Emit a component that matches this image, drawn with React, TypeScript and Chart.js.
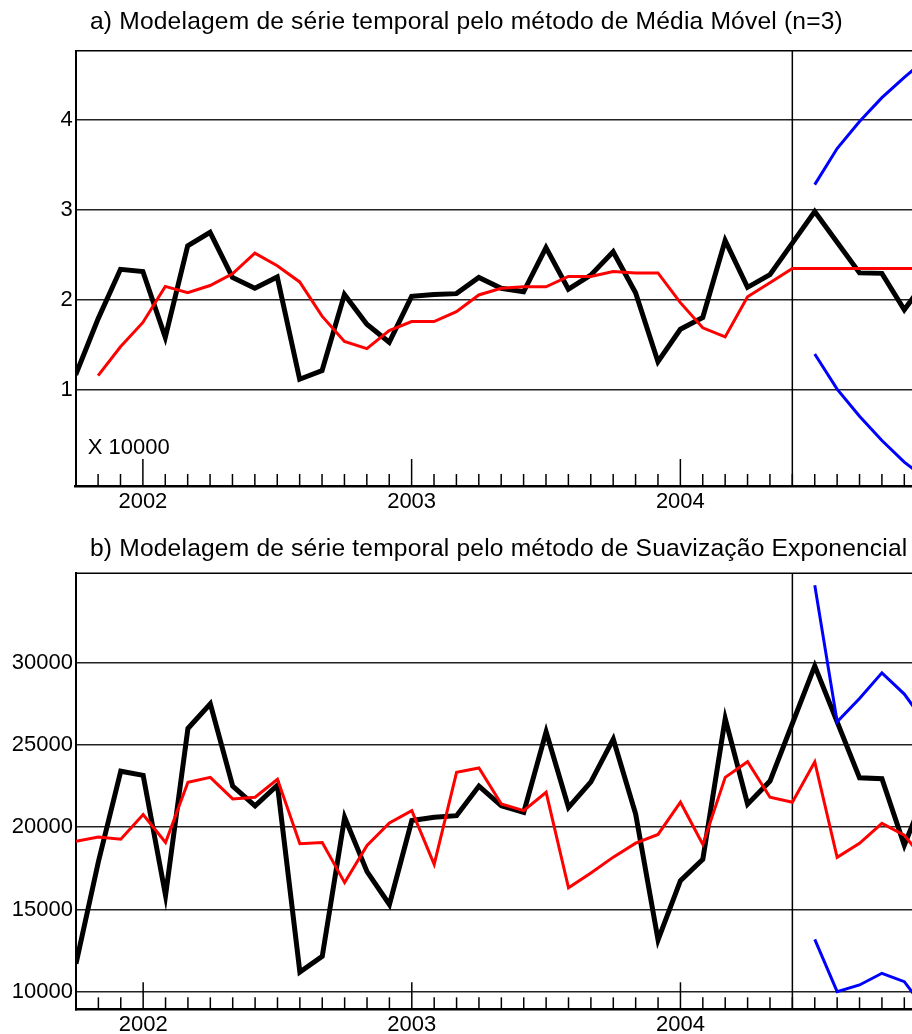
import React, { useEffect, useRef } from "react";
import { Chart, registerables } from "chart.js";

Chart.register(...registerables);

const FONT = "'Liberation Sans', Arial, sans-serif";

// Months on the x axis: Oct 2001 .. Dec 2004 (index 0 = Jan 2002 at position 3)
const months = [
  "2001-10", "2001-11", "2001-12",
  "2002-01", "2002-02", "2002-03", "2002-04", "2002-05", "2002-06",
  "2002-07", "2002-08", "2002-09", "2002-10", "2002-11", "2002-12",
  "2003-01", "2003-02", "2003-03", "2003-04", "2003-05", "2003-06",
  "2003-07", "2003-08", "2003-09", "2003-10", "2003-11", "2003-12",
  "2004-01", "2004-02", "2004-03", "2004-04", "2004-05", "2004-06",
  "2004-07", "2004-08", "2004-09", "2004-10", "2004-11", "2004-12",
];
const yearTicks = [0, 12, 24];
const yearLabels = ["2002", "2003", "2004"];
const forecastStartMonth = 29; // Jun 2004

// Observed series (actual units)
const observed = [
  11700, 17900, 23400,
  23150, 15850, 26000, 27500, 22500, 21300, 22550, 11200, 12150, 20600, 17300, 15300,
  20400, 20600, 20700, 22500, 21300, 20900, 25800, 21200, 22750, 25350, 20800, 13150,
  16750, 18050, 26600, 21400, 22800, 26300, 29800, 26400, 23000, 22950, 18900, 22300,
];

// a) Moving average (n=3), in units of 10000
const movingAverage = [
  null, 1.16, 1.48,
  1.75, 2.15, 2.08, 2.16, 2.29, 2.52, 2.38, 2.2, 1.82, 1.54, 1.46, 1.66,
  1.76, 1.76, 1.87, 2.055, 2.13, 2.145, 2.145, 2.26, 2.26, 2.315, 2.3, 2.3,
  1.97, 1.69, 1.59, 2.035, 2.19, 2.35, 2.35, 2.35, 2.35, 2.35, 2.35, 2.35,
];
const maUpper = [
  null, null, null, null, null, null, null, null, null, null, null, null, null,
  null, null, null, null, null, null, null, null, null, null, null, null, null,
  null, null, null, null, null, null, null, 3.28, 3.68, 3.98, 4.245, 4.47, 4.68,
];
const maLower = [
  null, null, null, null, null, null, null, null, null, null, null, null, null,
  null, null, null, null, null, null, null, null, null, null, null, null, null,
  null, null, null, null, null, null, null, 1.4, 1.01, 0.71, 0.44, 0.2, 0.01,
];

// b) Exponential smoothing (actual units)
const smoothed = [
  19150, 19400, 19270,
  20770, 19070, 22730, 23030, 21720, 21820, 22910, 18990, 19070, 16630, 18890, 20260,
  21010, 17740, 23330, 23600, 21410, 21010, 22120, 16320, 17210, 18180, 19030, 19560,
  21520, 18950, 23030, 23980, 21820, 21520, 23970, 18170, 19020, 20230, 19520, 17800,
];
const esUpper = [
  null, null, null, null, null, null, null, null, null, null, null, null, null,
  null, null, null, null, null, null, null, null, null, null, null, null, null,
  null, null, null, null, null, null, null, 34700, 26400, 27820, 29380, 28090, 26200,
];
const esLower = [
  null, null, null, null, null, null, null, null, null, null, null, null, null,
  null, null, null, null, null, null, null, null, null, null, null, null, null,
  null, null, null, null, null, null, null, 13180, 10000, 10410, 11120, 10610, 8800,
];

const topTicks = [1, 2, 3, 4];
const bottomTicks = [10000, 15000, 20000, 25000, 30000];
const topScaleFactor = 10000;

const monthValue = (i: number) => i - 3;
const toPoints = (arr: (number | null)[], div = 1) =>
  arr.map((v, i) => ({ x: monthValue(i), y: v === null ? null : v / div }));

type PanelCfg = {
  title: string;
  titleY: number;
  note?: string;
  yMin: number;
  yMax: number;
  yTicks: number[];
  yWidth: number;
  padTop: number;
  xHeight: number;
  xPad: number;
  datasets: any[];
};

const makeDecor = (cfg: PanelCfg) => ({
  id: "decor",
  beforeDatasetsDraw(chart: any) {
    const { ctx, chartArea } = chart;
    const { left, right, top, bottom } = chartArea;
    const x = chart.scales.x;
    ctx.save();
    ctx.strokeStyle = "#000";
    ctx.lineWidth = 1.5;
    ctx.beginPath();
    ctx.moveTo(left, top);
    ctx.lineTo(right, top);
    ctx.stroke();
    for (let i = 1; i < months.length; i++) {
      const m = monthValue(i);
      const px = x.getPixelForValue(m);
      const len = yearTicks.includes(m) ? 27 : 12;
      ctx.beginPath();
      ctx.moveTo(px, bottom);
      ctx.lineTo(px, bottom - len);
      ctx.stroke();
    }
    const fx = x.getPixelForValue(forecastStartMonth);
    ctx.beginPath();
    ctx.moveTo(fx, top);
    ctx.lineTo(fx, bottom);
    ctx.stroke();
    ctx.restore();
  },
  afterDraw(chart: any) {
    const { ctx, chartArea } = chart;
    ctx.save();
    ctx.fillStyle = "#000";
    ctx.font = `24.6px ${FONT}`;
    (ctx as any).letterSpacing = "0.18px";
    ctx.textAlign = "left";
    ctx.textBaseline = "middle";
    ctx.fillText(cfg.title, 90, cfg.titleY);
    (ctx as any).letterSpacing = "0px";
    if (cfg.note) {
      ctx.font = `22px ${FONT}`;
      ctx.textBaseline = "alphabetic";
      ctx.fillText(cfg.note, chartArea.left + 12, chartArea.bottom - 32);
    }
    ctx.restore();
  },
});

function Panel({ cfg, width, height }: { cfg: PanelCfg; width: number; height: number }) {
  const ref = useRef<HTMLCanvasElement>(null);
  useEffect(() => {
    if (!ref.current) return;
    const chart = new Chart(ref.current, {
      type: "line",
      data: { datasets: cfg.datasets },
      options: {
        responsive: false,
        animation: false,
        devicePixelRatio: 1,
        layout: { padding: { top: cfg.padTop, left: 0, right: 13.3, bottom: 0 } },
        plugins: { legend: { display: false }, tooltip: { enabled: false }, title: { display: false } },
        elements: { point: { radius: 0 }, line: { tension: 0 } },
        scales: {
          x: {
            type: "linear",
            min: -3,
            max: 35,
            afterBuildTicks: (s: any) => {
              s.ticks = yearTicks.map((v) => ({ value: v }));
            },
            afterFit: (s: any) => {
              s.height = cfg.xHeight;
            },
            grid: { display: false, drawTicks: false },
            border: { display: true, color: "#000", width: 2.5 },
            ticks: {
              autoSkip: false,
              maxRotation: 0,
              padding: cfg.xPad,
              color: "#000",
              font: { family: FONT, size: 22 },
              callback: (_v: any, i: number) => yearLabels[i] ?? "",
            },
          },
          y: {
            type: "linear",
            min: cfg.yMin,
            max: cfg.yMax,
            afterBuildTicks: (s: any) => {
              s.ticks = cfg.yTicks.map((v) => ({ value: v }));
            },
            afterFit: (s: any) => {
              s.width = cfg.yWidth;
            },
            grid: { color: "#222", lineWidth: 1.4, drawTicks: false },
            border: { display: true, color: "#000", width: 2 },
            ticks: {
              padding: 3,
              color: "#000",
              font: { family: FONT, size: 22 },
              callback: (v: any) => String(v),
            },
          },
        },
      } as any,
      plugins: [makeDecor(cfg)],
    });
    return () => chart.destroy();
  }, [cfg]);
  return <canvas ref={ref} width={width} height={height} style={{ position: "absolute", left: 0, top: 0, width, height }} />;
}

const lineDs = (data: any[], color: string, w: number) => ({
  data,
  borderColor: color,
  borderWidth: w,
  pointRadius: 0,
  fill: false,
  spanGaps: false,
  borderJoinStyle: "miter" as const,
  borderCapStyle: "butt" as const,
});

const topCfg: PanelCfg = {
  title: "a) Modelagem de série temporal pelo método de Média Móvel (n=3)",
  titleY: 22,
  note: "X 10000",
  yMin: -0.065,
  yMax: 4.766,
  yTicks: topTicks,
  yWidth: 75.7,
  padTop: 50.7,
  xHeight: 34,
  xPad: 3,
  datasets: [
    lineDs(toPoints(maUpper), "#0000ff", 3),
    lineDs(toPoints(maLower), "#0000ff", 3),
    lineDs(toPoints(movingAverage), "#ff0000", 3),
    lineDs(toPoints(observed, topScaleFactor), "#000000", 5),
  ],
};

const bottomCfg: PanelCfg = {
  title: "b) Modelagem de série temporal pelo método de Suavização Exponencial",
  titleY: 29,
  yMin: 8931,
  yMax: 35431,
  yTicks: bottomTicks,
  yWidth: 76,
  padTop: 53.3,
  xHeight: 24.7,
  xPad: 2,
  datasets: [
    lineDs(toPoints(esUpper), "#0000ff", 3),
    lineDs(toPoints(esLower), "#0000ff", 3),
    lineDs(toPoints(smoothed), "#ff0000", 3),
    lineDs(toPoints(observed), "#000000", 5),
  ],
};

export default function App() {
  return (
    <div style={{ position: "absolute", left: 0, top: 0, width: 912, height: 1034, overflow: "hidden", background: "#fff" }}>
      <div style={{ position: "absolute", left: 0, top: 0, width: 940, height: 520 }}>
        <Panel cfg={topCfg} width={940} height={520} />
      </div>
      <div style={{ position: "absolute", left: 0, top: 520, width: 940, height: 514 }}>
        <Panel cfg={bottomCfg} width={940} height={514} />
      </div>
    </div>
  );
}
